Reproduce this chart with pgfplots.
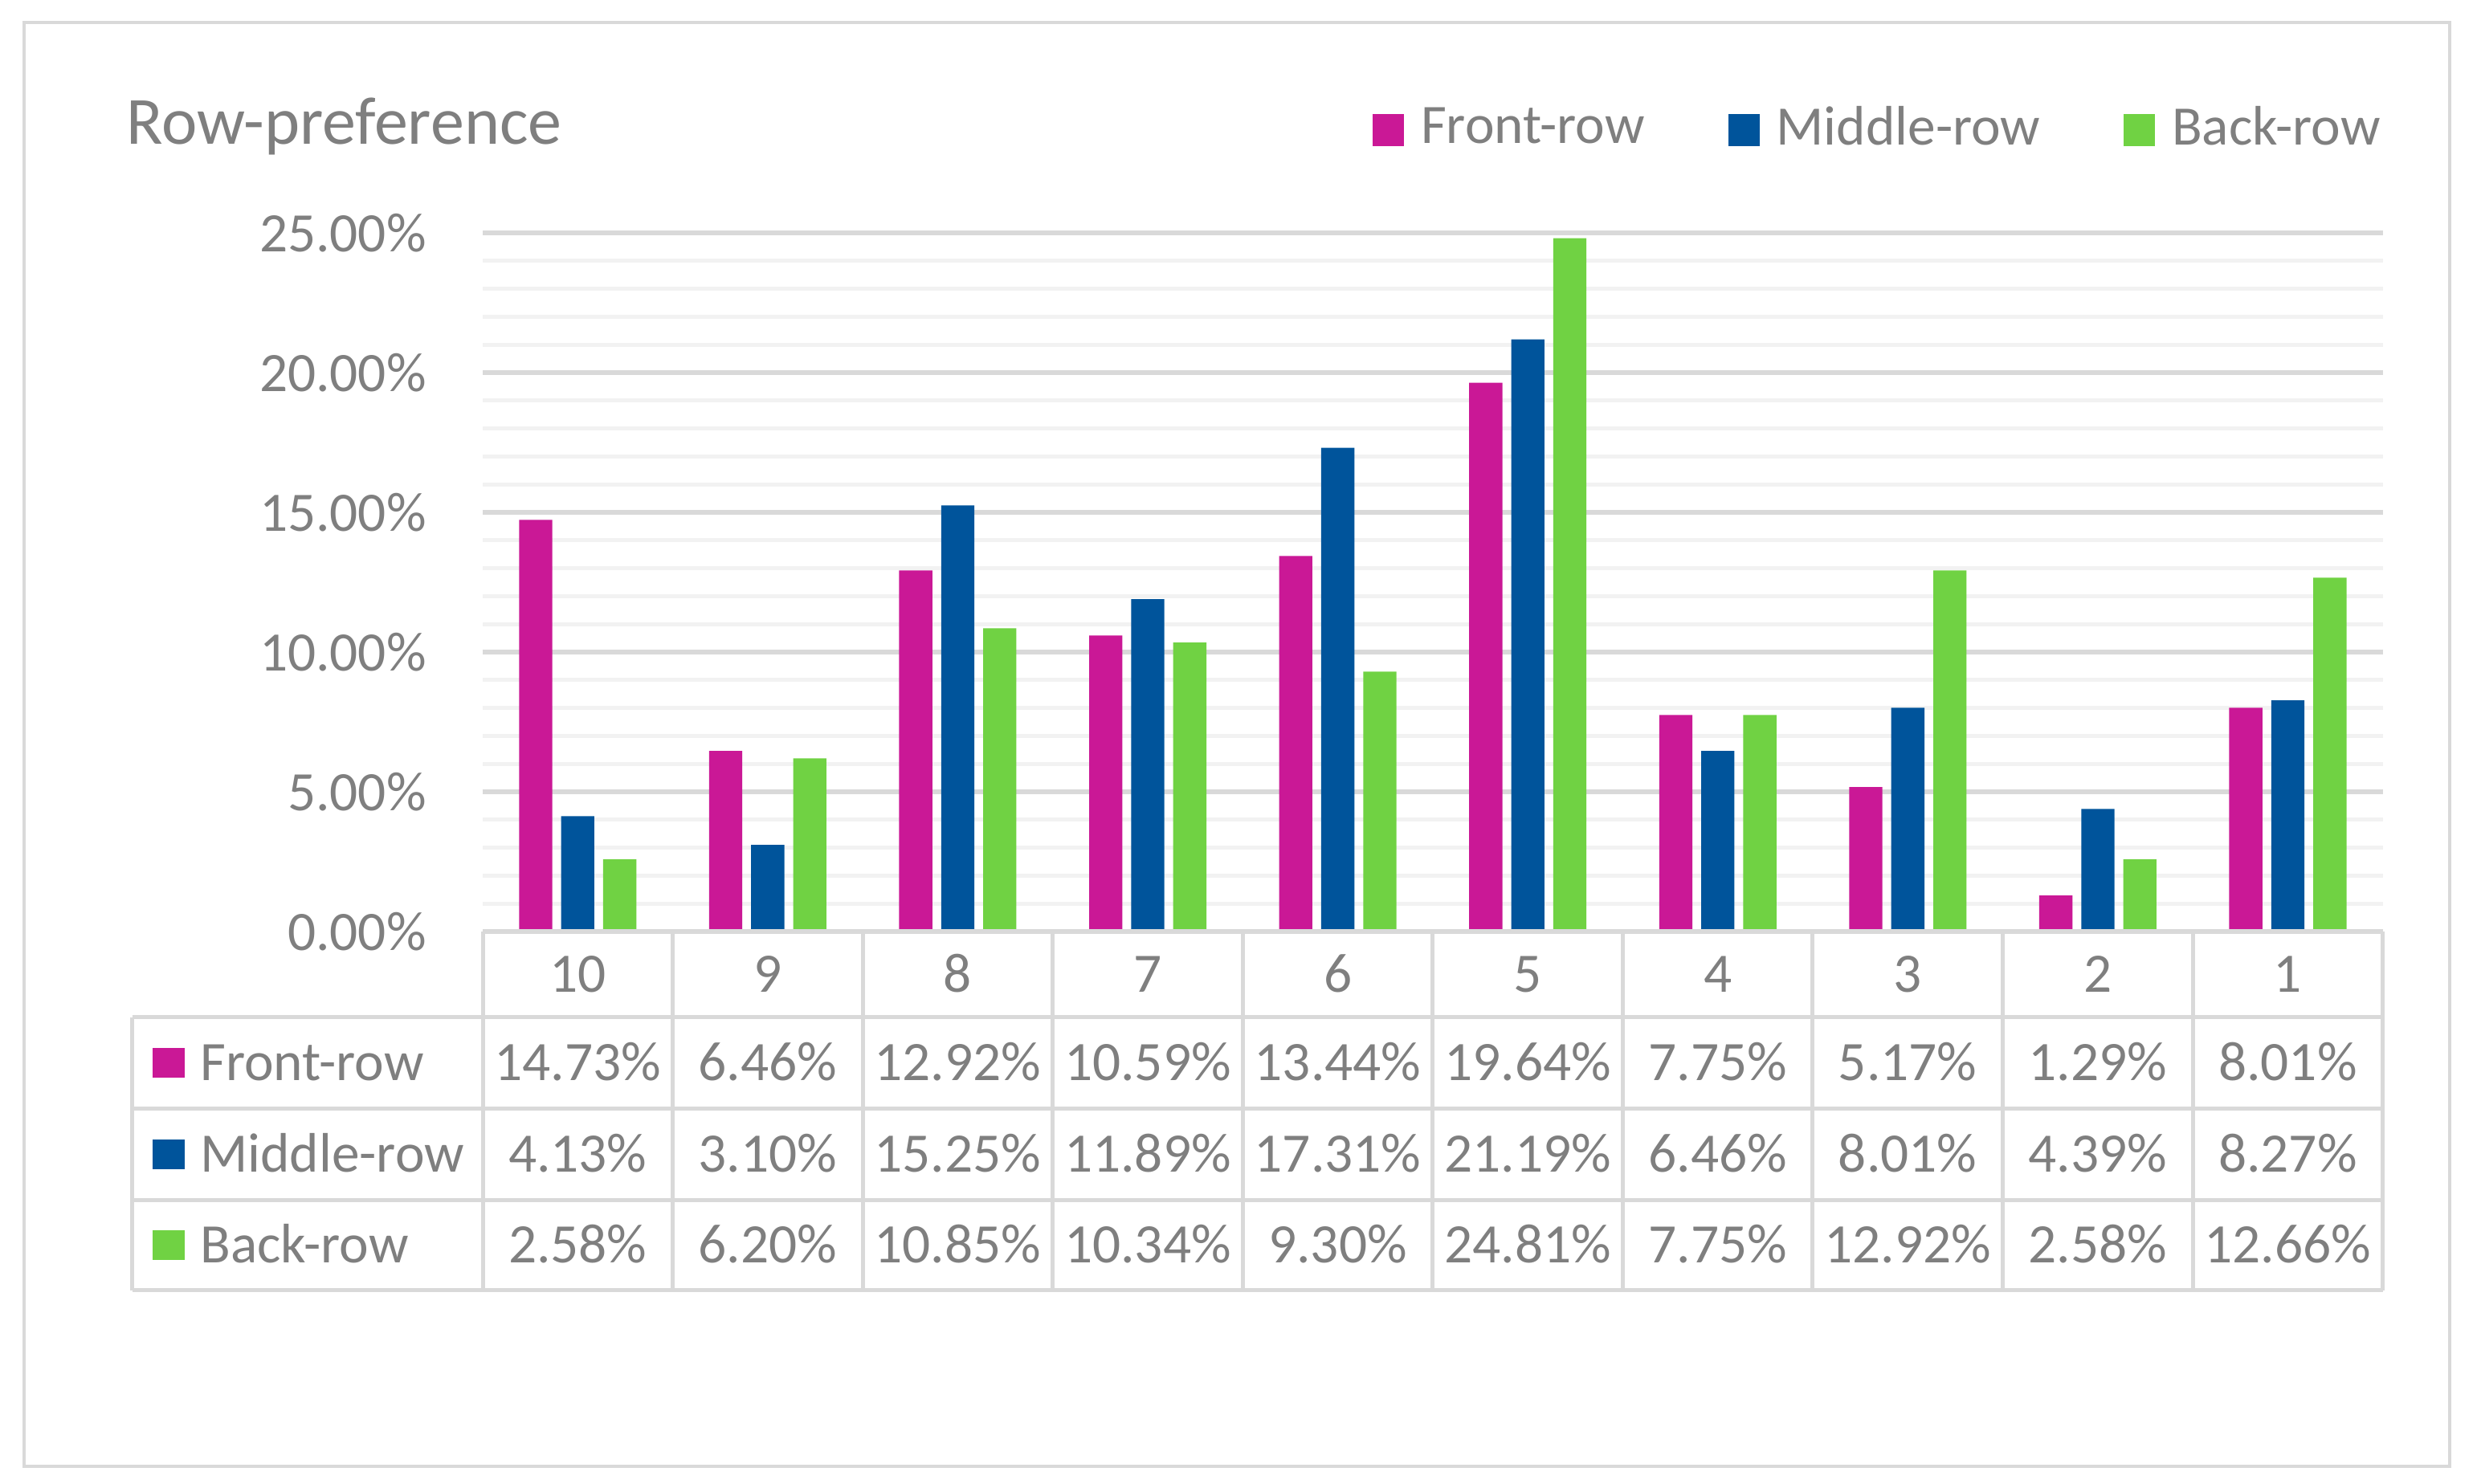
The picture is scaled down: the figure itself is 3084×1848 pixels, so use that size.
\documentclass[border=0pt]{standalone}
\usepackage{pgfplots}
\pgfplotsset{compat=1.18}
\usepackage{pgfplotstable}
\usepackage{fontspec}
\setmainfont{Carlito}

\definecolor{frontc}{HTML}{CA1896}
\definecolor{middlec}{HTML}{00549B}
\definecolor{backc}{HTML}{70D243}
\definecolor{txt}{HTML}{7F7F7F}
\definecolor{gridmajor}{HTML}{D9D9D9}
\definecolor{gridminor}{HTML}{F2F2F2}

% rows 10 ... 1, plotted at x = 0 ... 9
\pgfplotstableread{
x front middle back
0 14.73 4.13 2.58
1 6.46 3.10 6.20
2 12.92 15.25 10.85
3 10.59 11.89 10.34
4 13.44 17.31 9.30
5 19.64 21.19 24.81
6 7.75 6.46 7.75
7 5.17 8.01 12.92
8 1.29 4.39 2.58
9 8.01 8.27 12.66
}\rowdata

\newcommand\lbl{\fontsize{10.4}{12}\selectfont}

\begin{document}
\begin{tikzpicture}
\begin{axis}[
    scale only axis,
    width=354.84pt, height=130.5pt,
    xmin=-0.5, xmax=9.5, ymin=0, ymax=25,
    xtick={0,...,9},
    xticklabels={10,9,8,7,6,5,4,3,2,1},
    ytick={0,5,...,25},
    minor y tick num=4,
    ymajorgrids, yminorgrids,
    major grid style={gridmajor, line width=0.8pt},
    minor grid style={gridminor, line width=0.8pt},
    axis line style={draw=none},
    major tick length=0pt, minor tick length=0pt,
    tick style={draw=none},
    /pgf/number format/assume math mode=true,
    yticklabel={\pgfmathprintnumber[fixed,fixed zerofill,precision=2]{\tick}\%},
    yticklabel style={anchor=east, inner sep=0pt, xshift=-10.35pt},
    xticklabel style={anchor=base, inner sep=0pt, yshift=-11.33pt},
    tick label style={font=\lbl, text=txt},
    ybar, bar width=6.2pt,
    legend columns=3,
    legend style={at={(0.4684,1.114)}, anchor=south west, draw=none,
        inner sep=0pt, outer sep=0pt, font=\lbl, text=txt,
        nodes={inner sep=0pt},
        /tikz/every odd column/.append style={column sep=3.15pt},
        /tikz/every even column/.append style={column sep=15.6pt}},
    legend image code/.code={\fill[#1] (0pt,-3.1pt) rectangle (5.85pt,2.9pt);},
    clip=false,
]
\addplot[draw=none, fill=frontc, bar shift=-7.85pt] table[x=x, y=front] {\rowdata};
\addplot[draw=none, fill=middlec, bar shift=0pt] table[x=x, y=middle] {\rowdata};
\addplot[draw=none, fill=backc, bar shift=7.85pt] table[x=x, y=back] {\rowdata};
\legend{Front-row, Middle-row, Back-row}
\end{axis}

% data table and frame, in pixel units of the reference
\begin{scope}[shift={(-90.15pt,174pt)}, x=0.15pt, y=-0.15pt]
  \draw[gridmajor, line width=0.6pt] (30,28) rectangle (3050,1826);
  \node[anchor=base west, inner sep=0pt, text=txt, font=\fontsize{12.6}{15}\selectfont]
    at (156,180) {Row-preference};
  \begin{scope}[gridmajor, line width=0.75pt]
    \draw (601,1160) -- (2966.6,1160);
    \foreach \yy in {1267,1381,1495,1607} \draw (165,\yy) -- (2966.6,\yy);
    \draw (165,1267) -- (165,1607);
    \foreach \k in {0,...,10} \draw ({601+236.56*\k},1160) -- ({601+236.56*\k},1607);
  \end{scope}
  \begin{scope}[every node/.style={inner sep=0pt, text=txt, font=\lbl}]
    \node[anchor=base west] at (189,1346) {\textcolor{frontc}{\rule[0.6pt]{6pt}{5.6pt}}\hspace{2.85pt}Front-row};
    \node[anchor=base west] at (189,1460) {\textcolor{middlec}{\rule[0.6pt]{6pt}{5.6pt}}\hspace{2.85pt}Middle-row};
    \node[anchor=base west] at (189,1573) {\textcolor{backc}{\rule[0.6pt]{6pt}{5.6pt}}\hspace{2.85pt}Back-row};
    \foreach \i in {0,...,9} {
      \pgfplotstablegetelem{\i}{front}\of\rowdata
      \node[anchor=base] at ({601+236.56*(\i+0.5)},1346) {\pgfplotsretval\%};
      \pgfplotstablegetelem{\i}{middle}\of\rowdata
      \node[anchor=base] at ({601+236.56*(\i+0.5)},1460) {\pgfplotsretval\%};
      \pgfplotstablegetelem{\i}{back}\of\rowdata
      \node[anchor=base] at ({601+236.56*(\i+0.5)},1573) {\pgfplotsretval\%};
    }
  \end{scope}
  \pgfresetboundingbox
  \path[use as bounding box] (0,0) rectangle (3084,1848);
\end{scope}
\end{tikzpicture}
\end{document}
